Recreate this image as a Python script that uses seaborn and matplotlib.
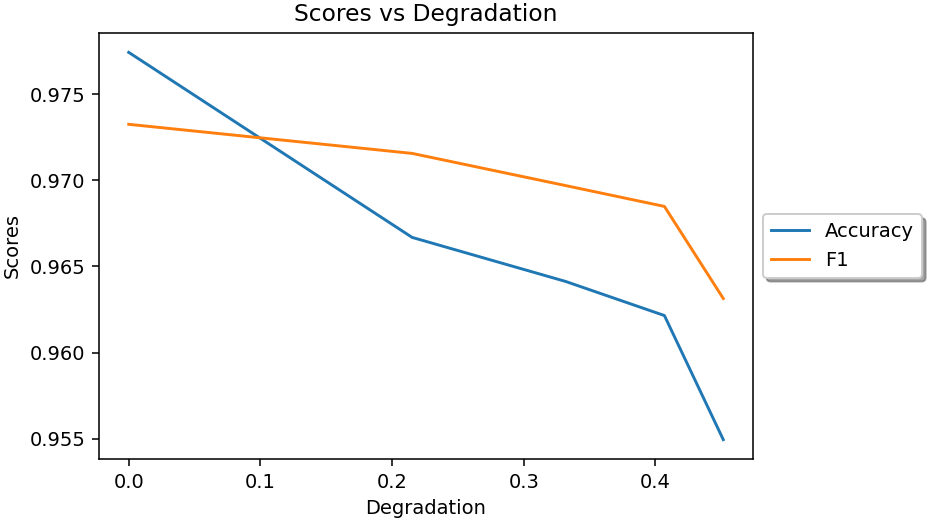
import matplotlib
matplotlib.use("Agg")
import matplotlib.pyplot as plt
import seaborn as sns
import pandas as pd

# Scores measured at each degradation level
degradation = [0.0, 0.2152, 0.3318, 0.4068, 0.4515]
accuracy = [0.97744, 0.96669, 0.96413, 0.96215, 0.95494]
f1 = [0.97326, 0.97157, 0.96970, 0.96849, 0.96314]
series_names = ["Accuracy", "F1"]
colors = ["#1f77b4", "#ff7f0e"]

df = pd.DataFrame({
    "Degradation": degradation * 2,
    "Scores": accuracy + f1,
    "Metric": [series_names[0]] * len(accuracy) + [series_names[1]] * len(f1),
})

dpi = 140
fig = plt.figure(figsize=(928 / dpi, 521 / dpi), dpi=dpi)
W, H = 928, 521
left, right, top, bottom = 99, 753, 33, 459
ax = fig.add_axes([left / W, (H - bottom) / H, (right - left) / W, (bottom - top) / H])

sns.lineplot(data=df, x="Degradation", y="Scores", hue="Metric",
             palette=colors, linewidth=1.5, ax=ax, legend=True)

ax.set_title("Scores vs Degradation", fontsize=12)
ax.set_xlabel("Degradation", fontsize=10)
ax.set_ylabel("Scores", fontsize=10)

handles, labels = ax.get_legend_handles_labels()
ax.legend(handles, labels, loc="center left", bbox_to_anchor=(1.0, 0.5),
          shadow=True, fontsize=10)

fig.savefig("out.png", dpi=dpi)
